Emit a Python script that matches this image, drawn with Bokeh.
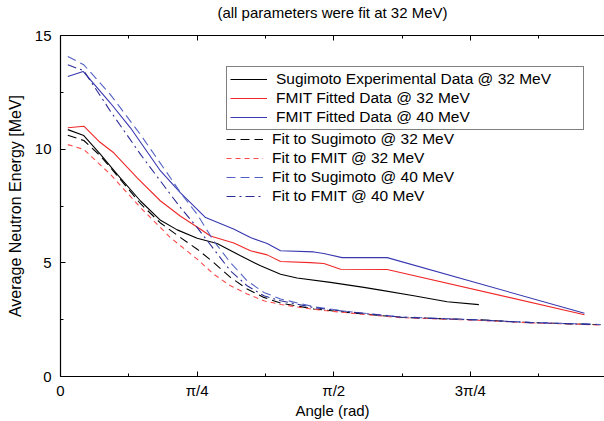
import math
from bokeh.plotting import figure
from bokeh.models import (LinearAxis, FixedTicker, Legend, LegendItem, Range1d)
from bokeh.embed import file_html
from bokeh.resources import INLINE

# ---------------- data ----------------
sug_exp_x = [0.042, 0.134, 0.23, 0.326, 0.46, 0.575, 0.671, 0.786, 0.90, 1.035, 1.15,
             1.265, 1.36, 1.552, 1.744, 1.84, 2.031, 2.223, 2.405]
sug_exp_y = [10.86, 10.6, 9.77, 8.89, 7.72, 6.87, 6.45, 6.08, 5.85, 5.31, 4.87,
             4.50, 4.33, 4.14, 3.92, 3.80, 3.55, 3.29, 3.16]

fmit32_x = [0.042, 0.134, 0.22, 0.306, 0.441, 0.575, 0.69, 0.805, 0.862, 0.996, 1.092,
            1.188, 1.265, 1.437, 1.514, 1.61, 1.878, 3.012]
fmit32_y = [10.94, 11.01, 10.35, 9.84, 8.74, 7.72, 7.05, 6.48, 6.18, 5.87, 5.53,
            5.35, 5.06, 5.01, 4.97, 4.72, 4.71, 2.72]

fmit40_x = [0.042, 0.13, 0.287, 0.402, 0.575, 0.69, 0.834, 0.995, 1.092, 1.188, 1.265,
            1.456, 1.513, 1.619, 1.878, 3.012]
fmit40_y = [13.2, 13.42, 12.03, 10.94, 9.04, 8.08, 6.99, 6.49, 6.11, 5.85, 5.53,
            5.48, 5.41, 5.23, 5.23, 2.78]

fit_sug32_x = [0.042, 0.134, 0.23, 0.33, 0.46, 0.575, 0.69, 0.786, 0.881, 0.977, 1.073,
               1.169, 1.265, 1.456, 1.648, 1.954, 2.414, 2.70, 3.104]
fit_sug32_y = [10.61, 10.38, 9.7, 8.8, 7.6, 6.75, 6.11, 5.6, 5.01, 4.36, 3.85,
               3.48, 3.23, 2.97, 2.82, 2.6, 2.49, 2.37, 2.28]

fit_fmit32_x = [0.042, 0.134, 0.287, 0.46, 0.632, 0.69, 0.786, 0.881, 0.977, 1.073,
                1.169, 1.265, 1.456, 1.648, 1.954, 2.414, 2.70, 3.104]
fit_fmit32_y = [10.2, 9.99, 8.89, 7.43, 6.11, 5.75, 5.16, 4.5, 3.99, 3.63,
                3.33, 3.17, 2.95, 2.8, 2.59, 2.47, 2.36, 2.27]

fit_sug40_x = [0.042, 0.134, 0.287, 0.46, 0.632, 0.69, 0.786, 0.881, 0.977, 1.073,
               1.169, 1.265, 1.456, 1.648, 1.954, 2.414, 2.70, 3.104]
fit_sug40_y = [14.08, 13.71, 12.4, 10.64, 8.74, 8.08, 7.13, 5.96, 5.01, 4.21,
               3.70, 3.41, 3.07, 2.86, 2.62, 2.49, 2.38, 2.29]

fit_fmit40_x = [0.042, 0.134, 0.287, 0.46, 0.632, 0.69, 0.786, 0.881, 0.977, 1.073,
                1.169, 1.265, 1.456, 1.648, 1.954, 2.414, 2.70, 3.104]
fit_fmit40_y = [13.71, 13.45, 11.67, 9.77, 8.01, 7.43, 6.55, 5.6, 4.65, 3.99,
                3.55, 3.33, 3.03, 2.85, 2.61, 2.48, 2.37, 2.28]

x_ticks = [0, math.pi / 4, math.pi / 2, 3 * math.pi / 4, math.pi]
x_tick_labels = ["0", "π/4", "π/2", "3π/4", "π"]
x_minor = [math.pi / 8, 3 * math.pi / 8, 5 * math.pi / 8, 7 * math.pi / 8]
y_ticks = [0, 5, 10, 15]
y_minor = [2.5, 7.5, 12.5]

title_text = "(all parameters were fit at 32 MeV)"
x_label = "Angle (rad)"
y_label = "Average Neutron Energy [MeV]"

FONT = "Liberation Sans"
FS = "15px"

p = figure(width=604, height=421, output_backend="svg", toolbar_location=None,
           title=None,
           x_range=Range1d(0, math.pi * 544 / 546.5), y_range=Range1d(0, 15),
           min_border_left=60, min_border_right=0, min_border_top=34, min_border_bottom=45,
           x_axis_label=x_label, y_axis_label=y_label)
p.outline_line_color = None
p.grid.visible = False
p.background_fill_color = "white"
p.border_fill_color = "white"

xb = p.xaxis[0]
yl = p.yaxis[0]
xb.ticker = FixedTicker(ticks=x_ticks, minor_ticks=x_minor)
yl.ticker = FixedTicker(ticks=y_ticks, minor_ticks=y_minor)
xb.major_label_overrides = {t: l for t, l in zip(x_ticks, x_tick_labels)}

# top border with mirrored ticks; its axis label carries the chart's heading
top = LinearAxis(ticker=FixedTicker(ticks=x_ticks, minor_ticks=x_minor),
                 major_label_text_font_size="0px", major_label_standoff=0,
                 major_label_text_color=None, axis_label=title_text)
top.major_label_overrides = {t: "" for t in x_ticks}
p.add_layout(top, "above")

for ax in [xb, yl, top]:
    ax.major_tick_in = 5
    ax.major_tick_out = 0
    ax.minor_tick_in = 3
    ax.minor_tick_out = 0
    ax.axis_line_color = "black"
    ax.axis_line_width = 1.2
    ax.major_tick_line_color = "black"
    ax.minor_tick_line_color = "black"
    ax.axis_label_text_color = "black"
    ax.axis_label_text_font = FONT
    ax.major_label_text_font = FONT
    ax.axis_label_text_font_style = "normal"
    ax.axis_label_text_font_size = FS

for ax in [xb, yl]:
    ax.major_label_text_color = "black"
    ax.major_label_text_font_size = FS
yl.axis_label_text_font_size = "16px"
xb.major_label_standoff = 5
xb.axis_label_standoff = 0
yl.major_label_standoff = 9
yl.axis_label_standoff = 8
top.axis_label_standoff = 15

BLACK = "#000000"
RED = "#f02828"
BLUE = "#3838b0"
RED_D = "#ff4a4a"
BLUE_D = "#5262c4"
BLUE_DD = "#2c2c96"

r1 = p.line(sug_exp_x, sug_exp_y, line_color=BLACK, line_width=1.1)
r2 = p.line(fmit32_x, fmit32_y, line_color=RED, line_width=1.1)
r3 = p.line(fmit40_x, fmit40_y, line_color=BLUE, line_width=1.1)
r4 = p.line(fit_sug32_x, fit_sug32_y, line_color=BLACK, line_width=1.1, line_dash="9 5")
r5 = p.line(fit_fmit32_x, fit_fmit32_y, line_color=RED_D, line_width=1.1, line_dash="5 4")
r6 = p.line(fit_sug40_x, fit_sug40_y, line_color=BLUE_D, line_width=1.1, line_dash="9 5")
r7 = p.line(fit_fmit40_x, fit_fmit40_y, line_color=BLUE_DD, line_width=1.1, line_dash="9 4 2 4")

labels = ["Sugimoto Experimental Data @ 32 MeV", "FMIT Fitted Data @ 32 MeV",
          "FMIT Fitted Data @ 40 MeV", "Fit to Sugimoto @ 32 MeV", "Fit to FMIT @ 32 MeV",
          "Fit to Sugimoto @ 40 MeV", "Fit to FMIT @ 40 MeV"]
rs = [r1, r2, r3, r4, r5, r6, r7]


def make_legend(items, loc, border, lw):
    lg = Legend(items=items, location=loc, orientation="vertical",
                label_text_font=FONT, label_text_font_size="15.5px", label_text_color="black",
                glyph_width=37, glyph_height=18, label_height=18, label_standoff=9,
                label_width=lw, spacing=1, padding=3, margin=0,
                background_fill_alpha=0.0,
                border_line_color="black" if border else None, border_line_width=1.2)
    return lg


items1 = [LegendItem(label=l, renderers=[r]) for l, r in zip(labels[:3], rs[:3])]
items2 = [LegendItem(label=l, renderers=[r]) for l, r in zip(labels[3:], rs[3:])]
p.add_layout(make_legend(items1, (166, 246), True, 304))
p.add_layout(make_legend(items2, (166, 171), False, 20))

open("out.html", "w").write(file_html(p, INLINE))
